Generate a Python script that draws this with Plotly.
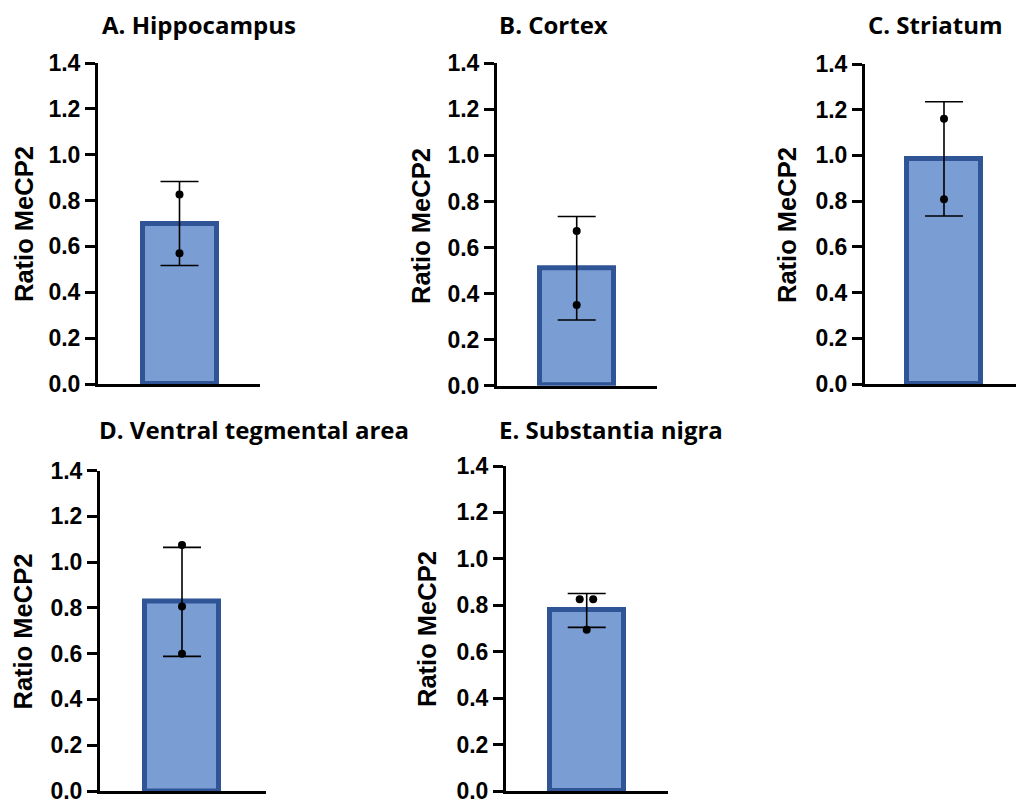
import plotly.graph_objects as go

# ---------------- data ----------------
titles = ["A. Hippocampus", "B. Cortex", "C. Striatum",
          "D. Ventral tegmental area", "E. Substantia nigra"]
bar_means = [0.70, 0.51, 0.985, 0.826, 0.778]
bar_sd = [0.183, 0.225, 0.250, 0.238, 0.073]
points = [
    [0.827, 0.570],
    [0.672, 0.350],
    [1.161, 0.808],
    [1.075, 0.806, 0.600],
    [0.826, 0.826, 0.695],
]
y_ticks = [0.0, 0.2, 0.4, 0.6, 0.8, 1.0, 1.2, 1.4]
y_label = "Ratio MeCP2"

# ---------------- layout geometry (pixels) ----------------
W, H = 1016, 805
# left (y-axis x), right end of x-axis, bar centre, top (1.4), bottom (0.0)
geom = [
    (98, 260, 179.5, 63.0, 384.0),
    (497, 657, 576.7, 63.3, 385.7),
    (865, 1016, 944.0, 64.0, 384.0),
    (100, 266, 182.0, 470.5, 791.0),
    (506, 668, 586.7, 466.0, 791.0),
]
title_pos = [(198.5, 25), (553, 25), (935, 25), (253.5, 429), (611, 429)]
ylab_pos = [(24, 224), (421, 226), (787, 225), (22.5, 632), (427, 629)]
jitter_px = [[0, 0], [0, 0], [0, 0], [0, 0, 0], [-7, 6.5, 0]]
UNIT = 80.0  # px per x data unit
BAR_OUTER = 79
LW = 5

FILL = "#7A9ED4"
EDGE = "#2F5597"

fig = go.Figure()
annotations = []
for i in range(5):
    left, right, cx, top, bottom = geom[i]
    ax = "" if i == 0 else str(i + 1)
    xa, ya = "x" + ax, "y" + ax
    fig.add_trace(go.Bar(
        x=[0], y=[bar_means[i]], width=(BAR_OUTER - LW) / UNIT,
        marker=dict(color=FILL, line=dict(color=EDGE, width=LW)),
        error_y=dict(type="data", array=[bar_sd[i]], visible=True,
                     color="black", thickness=1.6, width=19),
        xaxis=xa, yaxis=ya, showlegend=False, hoverinfo="y"))
    fig.add_trace(go.Scatter(
        x=[j / UNIT for j in jitter_px[i]], y=points[i], mode="markers",
        marker=dict(color="black", size=8),
        xaxis=xa, yaxis=ya, showlegend=False, cliponaxis=False))
    xkey = "xaxis" + ax
    ykey = "yaxis" + ax
    fig.layout[xkey] = dict(
        domain=[left / W, right / W],
        range=[(left - cx) / UNIT, (right - cx) / UNIT],
        showticklabels=False, ticks="", showgrid=False, zeroline=False,
        showline=True, linecolor="black", linewidth=3, automargin=False,
        anchor=ya, fixedrange=True)
    fig.layout[ykey] = dict(
        domain=[1 - bottom / H, 1 - top / H],
        range=[0, 1.4], tickvals=y_ticks,
        ticktext=[f"{v:.1f}" for v in y_ticks],
        ticks="outside", ticklen=10, tickwidth=3, tickcolor="black",
        tickfont=dict(family="Liberation Sans, Arial", size=23,
                      color="black", weight="bold"),
        ticklabeloverflow="allow",
        showgrid=False, zeroline=False, automargin=False,
        showline=True, linecolor="black", linewidth=3,
        anchor=xa, fixedrange=True)
    tx, ty = title_pos[i]
    annotations.append(dict(
        text=titles[i], x=tx / W, y=1 - ty / H, xref="paper", yref="paper",
        xanchor="center", yanchor="middle", showarrow=False,
        font=dict(family="Open Sans", size=24, color="black",
                  weight="bold")))
    lx, ly = ylab_pos[i]
    annotations.append(dict(
        text=y_label, x=lx / W, y=1 - ly / H, xref="paper", yref="paper",
        xanchor="center", yanchor="middle", showarrow=False, textangle=-90,
        font=dict(family="Liberation Sans, Arial", size=25.5, color="black",
                  weight="bold")))

fig.update_layout(
    width=W, height=H, margin=dict(l=0, r=0, t=0, b=0, autoexpand=False),
    paper_bgcolor="white", plot_bgcolor="white",
    annotations=annotations, bargap=0)

fig.write_html("out.html")
